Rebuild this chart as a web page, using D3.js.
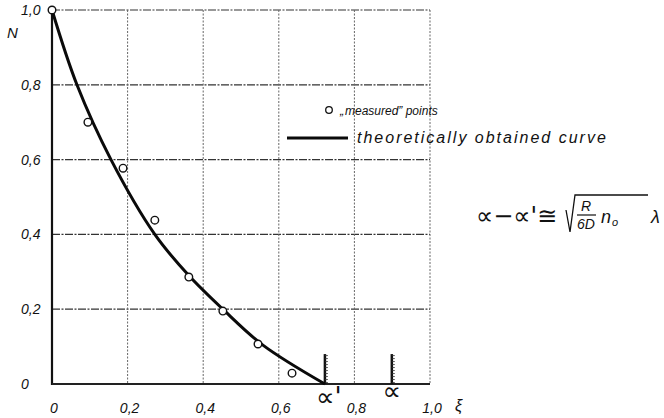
<!DOCTYPE html>
<html>
<head>
<meta charset="utf-8">
<script src="https://cdn.jsdelivr.net/npm/d3@7"></script>
<style>
  body { margin: 0; background: #fff; }
  text { font-family: "Liberation Sans", "DejaVu Sans", sans-serif; font-style: italic; fill: #111; }
  .sym { font-family: "DejaVu Sans", sans-serif; font-style: normal; }
</style>
</head>
<body>
<div id="chart-area"></div>
<script>
// ** Data **
var tickValues = [0, 0.2, 0.4, 0.6, 0.8, 1.0];
var tickLabels = ["0", "0,2", "0,4", "0,6", "0,8", "1,0"];

// "measured" points
var measuredXi = [0, 0.095, 0.188, 0.272, 0.362, 0.452, 0.545, 0.635];
var measuredN = [1.0, 0.70, 0.577, 0.438, 0.286, 0.195, 0.107, 0.029];

// theoretically obtained curve
var curveXi = [0, 0.066, 0.156, 0.272, 0.362, 0.452, 0.558, 0.722];
var curveN = [1.0, 0.8, 0.6, 0.4, 0.29, 0.2, 0.104, 0];

// hatched marks on the xi axis
var markNames = ["\u221D'", "\u221D"];
var markXi = [0.722, 0.899];
var markHeight = 0.08;

// ** Dimensions **
var width = 664, height = 418;
var plot = { left: 52, right: 430, top: 10, bottom: 384 };

var svg = d3.select("#chart-area")
	.append("svg")
	.attr("width", width)
	.attr("height", height);

// Scales
var x = d3.scaleLinear().domain([0, 1]).range([plot.left, plot.right]);
var y = d3.scaleLinear().domain([0, 1]).range([plot.bottom, plot.top]);

// Grid lines
var grid = svg.append("g");
grid.selectAll(".hgrid")
	.data(tickValues.slice(1))
	.enter().append("line")
	.attr("x1", plot.left).attr("x2", plot.right)
	.attr("y1", function(d){ return y(d); })
	.attr("y2", function(d){ return y(d); })
	.attr("stroke", "#333")
	.attr("stroke-width", 1.2)
	.attr("stroke-dasharray", "8,1.5,2,1.5");
grid.selectAll(".vgrid")
	.data(tickValues.slice(1))
	.enter().append("line")
	.attr("y1", plot.top).attr("y2", plot.bottom)
	.attr("x1", function(d){ return x(d); })
	.attr("x2", function(d){ return x(d); })
	.attr("stroke", "#666")
	.attr("stroke-width", 1)
	.attr("stroke-dasharray", "2,1.5");

// Axes (left and bottom, heavy)
svg.append("line")
	.attr("x1", plot.left).attr("x2", plot.left)
	.attr("y1", plot.top).attr("y2", plot.bottom + 1)
	.attr("stroke", "#111").attr("stroke-width", 2.2);
svg.append("line")
	.attr("x1", plot.left).attr("x2", plot.right)
	.attr("y1", plot.bottom).attr("y2", plot.bottom)
	.attr("stroke", "#222").attr("stroke-width", 2);

// Y tick labels
svg.selectAll(".ylab")
	.data(tickValues)
	.enter().append("text")
	.attr("x", 21)
	.attr("y", function(d){ return y(d) + 5; })
	.attr("font-size", 14)
	.text(function(d, i){ return tickLabels[i]; });

// X tick labels
svg.selectAll(".xlab")
	.data(tickValues)
	.enter().append("text")
	.attr("x", function(d){ return x(d) + 2; })
	.attr("y", 413)
	.attr("text-anchor", "middle")
	.attr("font-size", 14)
	.text(function(d, i){ return tickLabels[i]; });

// Axis names
svg.append("text")
	.attr("x", 7).attr("y", 38)
	.attr("font-size", 15)
	.text("N");
svg.append("text")
	.attr("x", 455).attr("y", 411)
	.attr("font-size", 16)
	.text("\u03BE");

// Hatched marks alpha' and alpha
markXi.forEach(function(m, i){
	var mg = svg.append("g");
	mg.append("line")
		.attr("x1", x(m)).attr("x2", x(m))
		.attr("y1", y(0)).attr("y2", y(markHeight))
		.attr("stroke", "#111").attr("stroke-width", 2.5);
	d3.range(0, markHeight, 0.008).forEach(function(h){
		mg.append("line")
			.attr("x1", x(m)).attr("x2", x(m) + 3)
			.attr("y1", y(h + 0.004)).attr("y2", y(h + 0.004))
			.attr("stroke", "#333").attr("stroke-width", 0.8);
	});
	mg.append("text")
		.attr("class", "sym")
		.attr("x", x(m) + (i == 0 ? 4 : 0))
		.attr("y", i == 0 ? 406 : 400)
		.attr("text-anchor", "middle")
		.attr("font-size", 26)
		.text(markNames[i]);
});

// Theoretical curve
var line = d3.line()
	.x(function(d){ return x(d[0]); })
	.y(function(d){ return y(d[1]); })
	.curve(d3.curveCatmullRom);
svg.append("path")
	.datum(d3.zip(curveXi, curveN))
	.attr("d", line)
	.attr("fill", "none")
	.attr("stroke", "#0a0a0a")
	.attr("stroke-width", 3);

// Measured points
svg.selectAll(".pt")
	.data(d3.zip(measuredXi, measuredN))
	.enter().append("circle")
	.attr("cx", function(d){ return x(d[0]); })
	.attr("cy", function(d){ return y(d[1]); })
	.attr("r", 3.8)
	.attr("fill", "#fff")
	.attr("stroke", "#111")
	.attr("stroke-width", 1.4);

// ** Legend **
var legend = svg.append("g");
legend.append("circle")
	.attr("cx", 329).attr("cy", 110)
	.attr("r", 3.3)
	.attr("fill", "#fff").attr("stroke", "#111").attr("stroke-width", 1.3);
legend.append("text")
	.attr("x", 340).attr("y", 115)
	.attr("font-size", 12)
	.text("\u201E\u200Ameasured\u201D points");
legend.append("line")
	.attr("x1", 287).attr("x2", 348)
	.attr("y1", 138).attr("y2", 138)
	.attr("stroke", "#0a0a0a").attr("stroke-width", 3);
legend.append("text")
	.attr("x", 357).attr("y", 143)
	.attr("font-size", 16)
	.attr("letter-spacing", 2)
	.text("theoretically obtained curve");

// ** Formula **
var f = svg.append("g");
f.append("text")
	.attr("class", "sym")
	.attr("x", 476).attr("y", 224)
	.attr("font-size", 24)
	.text("\u221D\u2212\u221D'\u2245");
// square root sign
f.append("path")
	.attr("d", "M566,210 L570,232 L575,195 L648,195")
	.attr("fill", "none")
	.attr("stroke", "#111")
	.attr("stroke-width", 1.3);
f.append("text")
	.attr("x", 586).attr("y", 211)
	.attr("text-anchor", "middle")
	.attr("font-size", 14)
	.text("R");
f.append("line")
	.attr("x1", 577).attr("x2", 596)
	.attr("y1", 215).attr("y2", 215)
	.attr("stroke", "#111").attr("stroke-width", 1.2);
f.append("text")
	.attr("x", 586).attr("y", 229)
	.attr("text-anchor", "middle")
	.attr("font-size", 14)
	.text("6D");
f.append("text")
	.attr("x", 601).attr("y", 223)
	.attr("font-size", 18)
	.text("n");
f.append("text")
	.attr("x", 612).attr("y", 226)
	.attr("font-size", 11)
	.text("o");
f.append("text")
	.attr("x", 651).attr("y", 223)
	.attr("font-size", 18)
	.text("\u03BB");
</script>
</body>
</html>
